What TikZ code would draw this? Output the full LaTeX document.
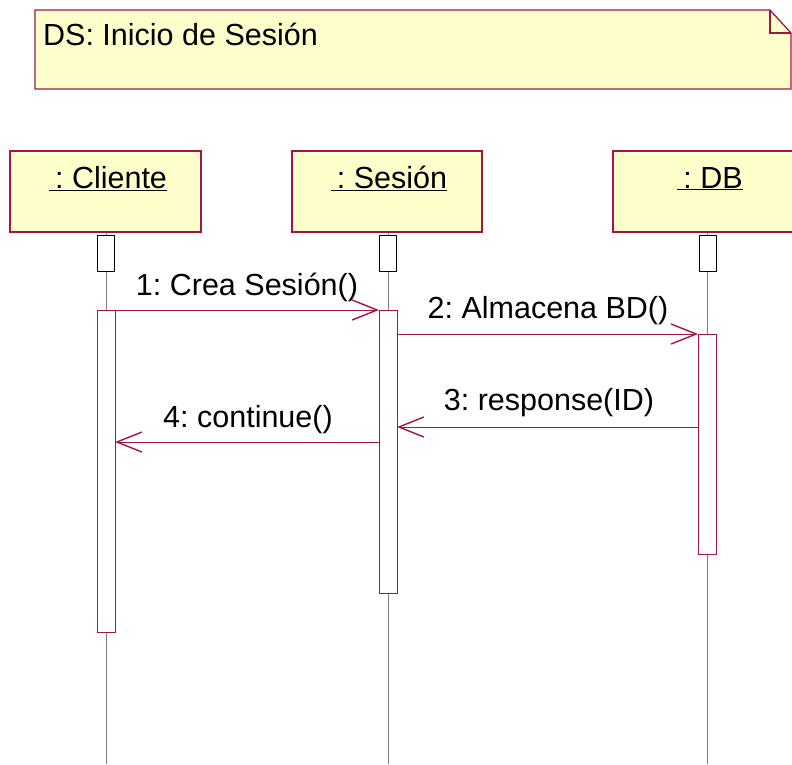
\documentclass[tikz,border=0pt]{standalone}
\usepackage{fontspec}
\setmainfont{Liberation Sans}
\usepackage{tikz}
\usetikzlibrary{arrows.meta}
\usetikzlibrary{positioning}

\definecolor{umlred}{RGB}{165,20,70}
\definecolor{umlnote}{RGB}{255,255,204}
\tikzset{
    msg/.style={draw=umlred, line width=1pt, -{Straight Barb[length=25pt,width=20pt,line width=1.4pt]}},
    lbl/.style={anchor=base, inner sep=0pt, font=\fontsize{30.5}{34}\selectfont},
}
\frenchspacing

\begin{document}
\begin{tikzpicture}[x=1pt, y=-1pt]
    \useasboundingbox (0,0) rectangle (792,764);
    \clip (0,0) rectangle (792,764);

    % note
    \draw[fill=umlnote, draw=umlred, line width=1.3pt] (35,10) -- (770,10) -- (791,33) -- (791,89) -- (35,89) -- cycle;
    \draw[draw=umlred, line width=1.3pt] (770,10) -- ++ (0,23) -- ++ (21,0);
    \node[lbl, anchor=base west] (title) at (43,45) {DS: Inicio de Sesión};

    % lifelines
    \draw[gray, line width=0.8pt] (106,232) -- (106,764);
    \draw[gray, line width=0.8pt] (388,232) -- (388,764);
    \draw[gray, line width=0.8pt] (707,232) -- (707,764);

    % heads
    \draw[fill=umlnote, draw=umlred, line width=1.2pt] (10,151) rectangle (201,232);
    \draw[fill=umlnote, draw=umlred, line width=1.2pt] (292,151) rectangle (482,232);
    \draw[fill=umlnote, draw=umlred, line width=1.2pt] (613,151) rectangle (802,232);
    \node[lbl] (cliente) at (108,188) {\underline{\hspace{0.2em}: Cliente}};
    \node[lbl] (sesion) at (389,188) {\underline{\hspace{0.2em}: Sesión}};
    \node[lbl] (db) at (710,188) {\underline{\hspace{0.2em}: DB}};

    % small boxes
    \draw[fill=white, line width=1pt] (97,235) rectangle (114,271);
    \draw[fill=white, line width=1pt] (379,235) rectangle (396,271);
    \draw[fill=white, line width=1pt] (699,235) rectangle (716,271);

    % activations
    \draw[fill=white, draw=umlred, line width=1pt] (97,310) rectangle (115,632);
    \draw[fill=white, draw=umlred, line width=1pt] (379,310) rectangle (397,593);
    \draw[fill=white, draw=umlred, line width=1pt] (698,334) rectangle (716,554);

    % messages
    \coordinate (m1a) at (115,310);
    \coordinate (m1b) at (379,310);
    \coordinate (m2a) at (397,334);
    \coordinate (m2b) at (698,334);
    \coordinate (m3a) at (698,427);
    \coordinate (m3b) at (397,427);
    \coordinate (m4a) at (379,442);
    \coordinate (m4b) at (115,442);
    \draw[msg] (m1a) -- (m1b);
    \draw[msg] (m2a) -- (m2b);
    \draw[msg] (m3a) -- (m3b);
    \draw[msg] (m4a) -- (m4b);
    \node[lbl] (l1) at (247,295) {1: Crea Sesión()};
    \node[lbl] (l2) at (548,318) {2: Almacena BD()};
    \node[lbl] (l3) at (549,410) {3: response(ID)};
    \node[lbl] (l4) at (248,427) {4: continue()};
\end{tikzpicture}
\end{document}
